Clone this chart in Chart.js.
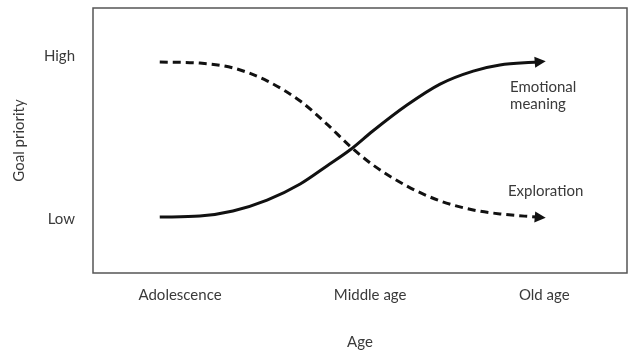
<!DOCTYPE html>
<html>
<head>
<meta charset="utf-8">
<script src="https://cdn.jsdelivr.net/npm/chart.js@4"></script>
<style>
  html, body { margin: 0; padding: 0; background: #fff; }
  #wrap { width: 640px; height: 351px; }
</style>
</head>
<body>
<div id="wrap"><canvas id="goals"></canvas></div>
<script>
// life stage axis: tick positions (0-100 span of the frame) and names
const ageTicks = [16.3, 51.9, 84.5]
const ageLabels = ['Adolescence', 'Middle age', 'Old age']

// goal priority axis
const priorityTicks = [20.4, 81.9]
const priorityLabels = ['Low', 'High']

// curves
const ageSteps = [12.5, 20.0, 26.2, 32.6, 38.8, 43.8, 48.1, 52.4, 58.8, 65.0, 71.2, 76.2, 83.1]
const emotionalMeaning = [21.1, 21.5, 23.4, 27.5, 33.6, 40.4, 46.4, 53.6, 63.4, 71.3, 76.2, 78.5, 79.6]
const exploration = [79.6, 79.2, 77.4, 72.5, 64.9, 56.2, 47.9, 40.8, 32.8, 27.2, 23.8, 22.3, 21.1]

const ink = '#111'
const textColor = '#3a3a3a'
const font = { family: 'Lato', size: 15 }

const toPoints = values => ageSteps.map((x, i) => ({ x, y: values[i] }))

const frame = {
  id: 'frame',
  afterDraw(chart) {
    const { ctx, chartArea: a } = chart
    ctx.save()
    ctx.strokeStyle = '#555'
    ctx.lineWidth = 1.5
    ctx.strokeRect(a.left, a.top, a.right - a.left, a.bottom - a.top)
    ctx.restore()
  },
}

const arrowHeads = {
  id: 'arrowHeads',
  afterDatasetsDraw(chart) {
    const { ctx } = chart
    chart.data.datasets.forEach((ds, i) => {
      const pts = chart.getDatasetMeta(i).data
      const end = pts[pts.length - 1]
      const prev = pts[pts.length - 2]
      const ang = Math.atan2(end.y - prev.y, end.x - prev.x)
      const len = 11, half = 5.5
      const tipX = end.x + Math.cos(ang) * 9
      const tipY = end.y + Math.sin(ang) * 9
      ctx.save()
      ctx.translate(tipX, tipY)
      ctx.rotate(ang)
      ctx.fillStyle = ink
      ctx.beginPath()
      ctx.moveTo(0, 0)
      ctx.lineTo(-len, -half)
      ctx.lineTo(-len, half)
      ctx.closePath()
      ctx.fill()
      ctx.restore()
    })
  },
}

const curveNotes = {
  id: 'curveNotes',
  afterDatasetsDraw(chart, args, opts) {
    const { ctx, scales: { x, y } } = chart
    ctx.save()
    ctx.fillStyle = textColor
    ctx.font = `${font.size}px ${font.family}`
    ctx.textAlign = 'left'
    ctx.textBaseline = 'middle'
    opts.notes.forEach(n => {
      n.lines.forEach((line, j) => {
        ctx.fillText(line, x.getPixelForValue(n.x), y.getPixelForValue(n.y) + j * 17)
      })
    })
    ctx.restore()
  },
}

new Chart(document.querySelector('#goals'), {
  type: 'line',
  data: {
    datasets: [
      {
        label: 'Emotional meaning',
        data: toPoints(emotionalMeaning),
        borderColor: ink,
        borderWidth: 3,
        pointRadius: 0,
        cubicInterpolationMode: 'monotone',
      },
      {
        label: 'Exploration',
        data: toPoints(exploration),
        borderColor: ink,
        borderWidth: 3,
        borderDash: [8, 5],
        pointRadius: 0,
        cubicInterpolationMode: 'monotone',
      },
    ],
  },
  options: {
    responsive: true,
    maintainAspectRatio: false,
    animation: false,
    layout: { padding: { top: 8, right: 13 } },
    plugins: {
      legend: { display: false },
      tooltip: { enabled: false },
      curveNotes: {
        notes: [
          { lines: ['Emotional', 'meaning'], x: 78.1, y: 70.2 },
          { lines: ['Exploration'], x: 77.7, y: 30.9 },
        ],
      },
    },
    scales: {
      x: {
        type: 'linear',
        min: 0,
        max: 100,
        grid: { display: false, drawTicks: false },
        border: { display: false },
        afterFit: scale => {
          scale.height = 78
          scale.paddingLeft = 0
          scale.paddingRight = 0
        },
        afterBuildTicks: scale => { scale.ticks = ageTicks.map(value => ({ value })) },
        ticks: {
          padding: 13,
          color: textColor,
          font,
          maxRotation: 0,
          callback: (value, index) => ageLabels[index],
        },
        title: { display: true, text: 'Age', color: textColor, font, padding: { top: 0, bottom: 0 } },
      },
      y: {
        min: 0,
        max: 100,
        grid: { display: false, drawTicks: false },
        border: { display: false },
        afterFit: scale => {
          scale.width = 93
          scale.paddingTop = 0
          scale.paddingBottom = 0
        },
        afterBuildTicks: scale => { scale.ticks = priorityTicks.map(value => ({ value })) },
        ticks: {
          padding: 18,
          color: textColor,
          font,
          callback: (value, index) => priorityLabels[index],
        },
        title: { display: true, text: 'Goal priority', color: textColor, font, padding: { top: 10, bottom: 0 } },
      },
    },
  },
  plugins: [frame, arrowHeads, curveNotes],
})
</script>
</body>
</html>
